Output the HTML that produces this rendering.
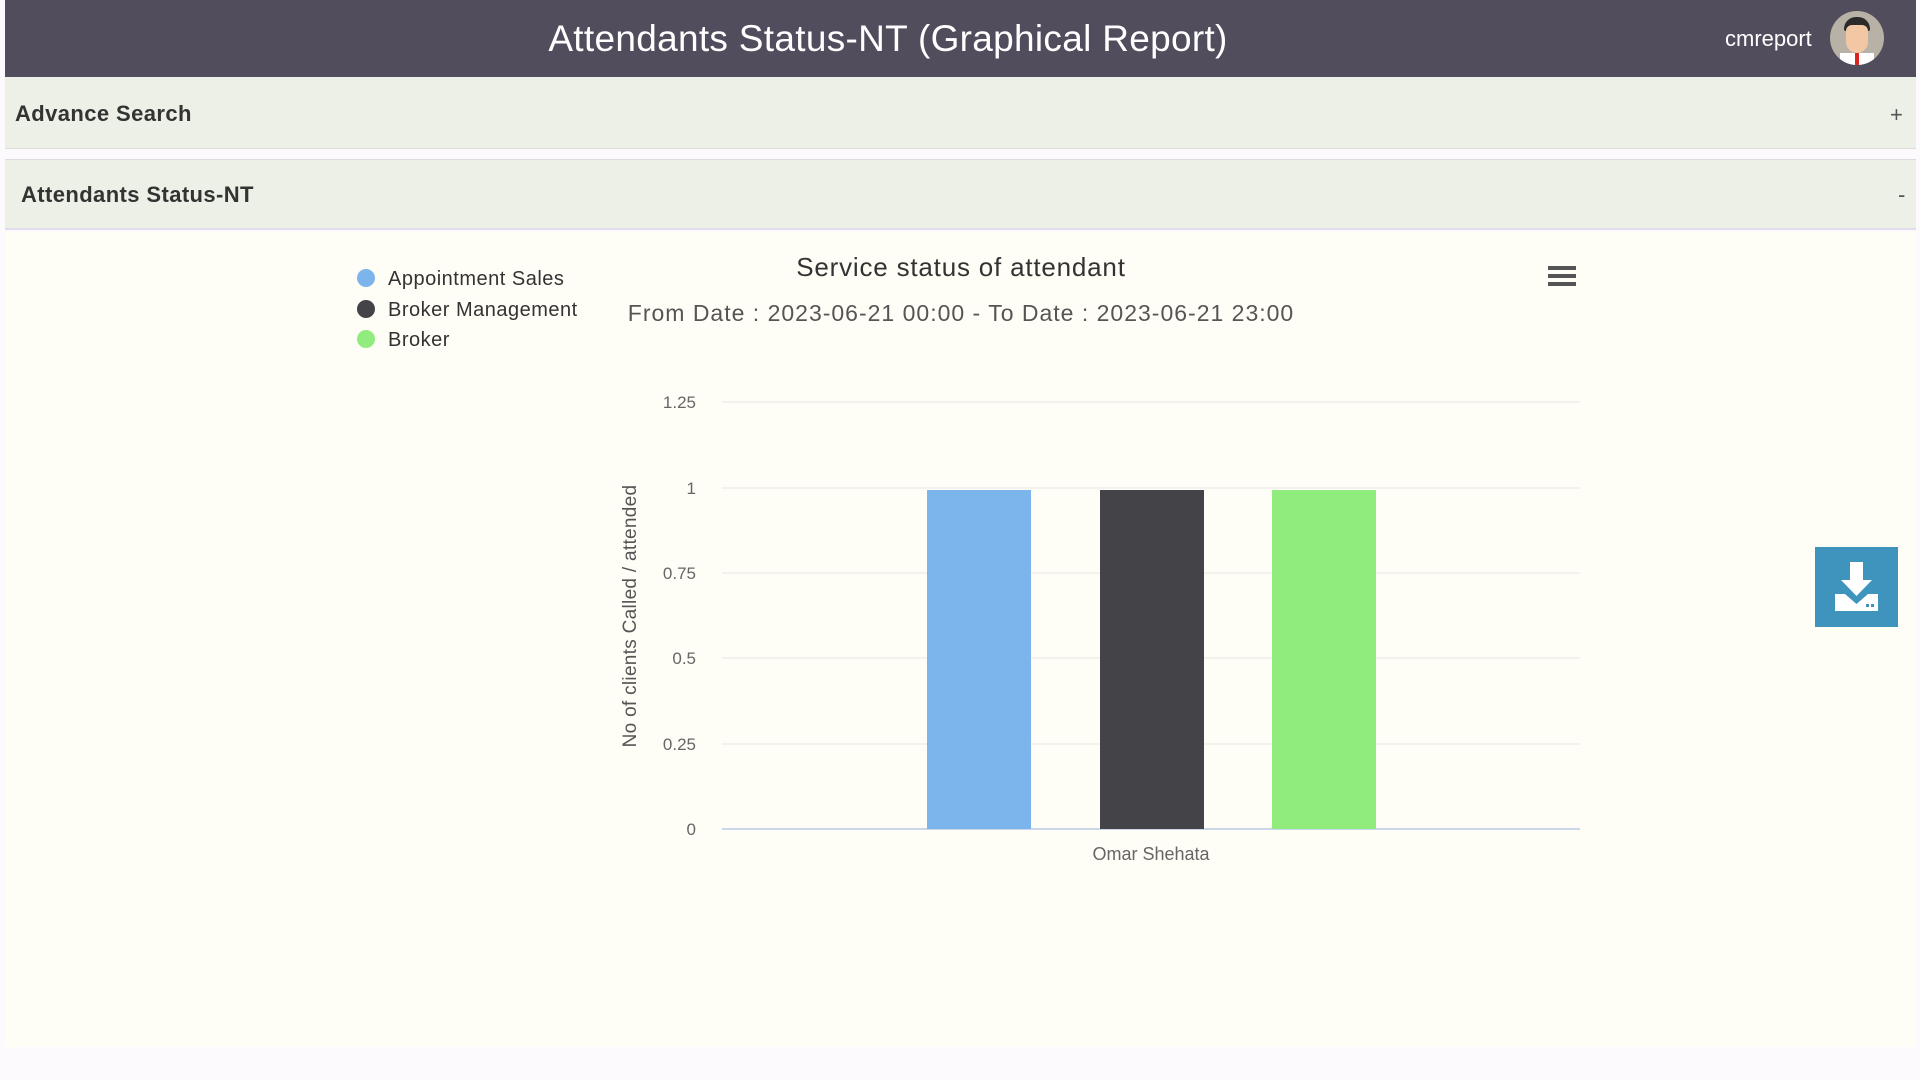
<!DOCTYPE html>
<html><head><meta charset="utf-8"><style>
*{margin:0;padding:0;box-sizing:border-box}
body{width:1920px;height:1080px;background:#fdfafd;font-family:"Liberation Sans",sans-serif;position:relative;overflow:hidden}
.a{position:absolute;white-space:nowrap}
</style></head><body>
<div class="a" style="left:5px;top:0;width:1911px;height:77px;background:#524d5d"></div>
<div class="a" style="left:0;width:1776px;top:17px;text-align:center;color:#fff;font-size:37px;line-height:44px;letter-spacing:0.3px">Attendants Status-NT (Graphical Report)</div>
<div class="a" style="left:1725px;top:26px;color:#fff;font-size:22px">cmreport</div>
<div class="a" style="left:1830px;top:11px;width:54px;height:54px;border-radius:50%;background:#b8b2a6;overflow:hidden">
 <div class="a" style="left:14px;top:6px;width:26px;height:14px;border-radius:12px 12px 2px 2px;background:#2c2a2a"></div>
 <div class="a" style="left:16px;top:14px;width:22px;height:28px;border-radius:6px 6px 11px 11px;background:#f1c7a4"></div>
 <div class="a" style="left:10px;top:42px;width:34px;height:14px;background:#fff"></div>
 <div class="a" style="left:25px;top:42px;width:4px;height:12px;background:#d22"></div>
</div>
<div class="a" style="left:5px;top:77px;width:1911px;height:72px;background:#edf0e6;border-bottom:1px solid #dcdcd8"></div>
<div class="a" style="left:15px;top:101px;font-size:22px;font-weight:bold;color:#333;letter-spacing:0.4px">Advance Search</div>
<div class="a" style="left:1890px;top:102px;font-size:22px;color:#555">+</div>
<div class="a" style="left:5px;top:159px;width:1911px;height:71px;background:#edf0e6;border-top:1px solid #dcdcd8;border-bottom:2px solid #e0dcec"></div>
<div class="a" style="left:21px;top:182px;font-size:22px;font-weight:bold;color:#333;letter-spacing:0.4px">Attendants Status-NT</div>
<div class="a" style="left:1898px;top:182px;font-size:22px;color:#555">-</div>
<div class="a" style="left:5px;top:232px;width:1911px;height:815px;background:#fffef6"></div>

<svg class="a" style="left:0;top:0" width="1920" height="1080" font-family="Liberation Sans, sans-serif">
 <circle cx="366" cy="278" r="9" fill="#7cb5ec"/>
 <circle cx="366" cy="309" r="9" fill="#434348"/>
 <circle cx="366" cy="339" r="9" fill="#90ed7d"/>
 <g font-size="20" fill="#333" letter-spacing="0.5">
 <text x="388" y="285">Appointment Sales</text>
 <text x="388" y="316">Broker Management</text>
 <text x="388" y="346">Broker</text>
 </g>
 <text x="961" y="276" font-size="26" fill="#333" text-anchor="middle" letter-spacing="0.8">Service status of attendant</text>
 <text x="961" y="321" font-size="23" fill="#555" text-anchor="middle" letter-spacing="1">From Date : 2023-06-21 00:00 - To Date : 2023-06-21 23:00</text>
 <g fill="#555"><rect x="1548" y="266" width="28" height="4"/><rect x="1548" y="274" width="28" height="4"/><rect x="1548" y="282" width="28" height="4"/></g>
 <g stroke="#e6e6e6" stroke-width="1">
  <line x1="722" x2="1580" y1="402" y2="402"/>
  <line x1="722" x2="1580" y1="488" y2="488"/>
  <line x1="722" x2="1580" y1="573" y2="573"/>
  <line x1="722" x2="1580" y1="658" y2="658"/>
  <line x1="722" x2="1580" y1="744" y2="744"/>
 </g>
 <line x1="722" x2="1580" y1="829" y2="829" stroke="#ccd6eb" stroke-width="2"/>
 <g font-size="17" fill="#666" text-anchor="end">
  <text x="696" y="408">1.25</text><text x="696" y="494">1</text><text x="696" y="579">0.75</text>
  <text x="696" y="664">0.5</text><text x="696" y="750">0.25</text><text x="696" y="835">0</text>
 </g>
 <text transform="translate(636,616) rotate(-90)" font-size="19" fill="#555" text-anchor="middle" letter-spacing="0.3">No of clients Called / attended</text>
 <rect x="927" y="490" width="104" height="339" fill="#7cb5ec"/>
 <rect x="1100" y="490" width="104" height="339" fill="#434348"/>
 <rect x="1272" y="490" width="104" height="339" fill="#90ed7d"/>
 <text x="1151" y="860" font-size="18" fill="#666" text-anchor="middle">Omar Shehata</text>
 <rect x="1815" y="547" width="83" height="80" fill="#3e94bd"/>
 <g fill="#fff">
  <rect x="1850" y="562" width="13" height="20"/>
  <polygon points="1841,580 1872,580 1856.5,596"/>
  <path d="M1835 594 L1845 594 L1856.5 604 L1868 594 L1878 594 L1878 611 L1835 611 Z"/>
 </g>
 <rect x="1866" y="604" width="3" height="3" fill="#3e94bd"/><rect x="1871" y="604" width="3" height="3" fill="#3e94bd"/>
</svg>
</body></html>
